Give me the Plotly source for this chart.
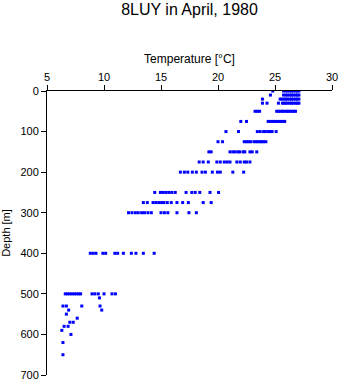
import plotly.graph_objects as go

# Depth levels (m) and the temperatures (deg C) observed at each level
depth_levels = [0, 10, 20, 30, 50, 75, 100, 125, 150, 175, 200, 250, 275, 300,
                400, 500, 510, 530, 540, 550, 560, 570, 580, 590, 600, 620, 650]

t_0 = [24.8, 25.75, 25.95, 26.1, 26.3, 26.45, 26.6, 26.8, 26.95, 27.1]
t_10 = [24.6, 25.75, 25.95, 26.1, 26.3, 26.45, 26.6, 26.8, 26.95, 27.1]
t_20 = [23.9, 25.45, 25.6, 25.8, 25.95, 26.1, 26.3, 26.45, 26.6, 26.8, 26.95, 27.1]
t_30 = [23.9, 24.3, 25.3, 25.65, 25.8, 25.95, 26.1, 26.3, 26.45, 26.6, 26.8, 26.95, 27.1]
t_50 = [23.25, 23.45, 23.65, 25.15, 25.3, 25.5, 25.65, 25.8, 26.0, 26.15, 26.3, 26.5, 26.65, 26.8]
t_75 = [22.0, 22.5, 24.4, 24.55, 24.75, 24.9, 25.05, 25.25, 25.4, 25.55, 25.75, 25.85]
t_100 = [20.7, 21.8, 23.45, 23.7, 24.0, 24.15, 24.4, 24.6, 24.75, 25.1]
t_125 = [20.0, 20.4, 22.3, 22.5, 22.7, 22.85, 23.15, 23.35, 23.5, 23.7, 23.85, 24.0, 24.2]
t_150 = [19.2, 19.4, 21.05, 21.3, 21.5, 21.75, 21.9, 22.2, 22.35, 22.8, 23.0, 23.4]
t_175 = [18.35, 18.7, 19.15, 19.9, 20.2, 20.55, 20.8, 21.05, 21.65, 21.95, 22.3, 22.5, 22.8]
t_200 = [16.7, 17.05, 17.35, 17.75, 18.1, 18.6, 18.9, 19.5, 19.95, 20.2, 21.3, 22.25]
t_250 = [14.45, 14.95, 15.2, 15.45, 15.7, 15.95, 16.25, 17.2, 17.7, 18.0, 18.4, 19.3, 20.05]
t_275 = [13.45, 13.8, 14.3, 14.55, 14.8, 15.05, 15.25, 15.55, 15.9, 16.4, 16.9, 17.4, 18.7, 19.4]
t_300 = [12.15, 12.45, 12.75, 13.0, 13.3, 13.55, 13.85, 14.15, 15.0, 15.3, 15.6, 16.4, 17.45, 18.1]
t_400 = [8.8, 9.05, 9.3, 9.9, 10.15, 10.95, 11.2, 11.7, 12.4, 12.8, 13.45, 14.4]
t_500 = [6.6, 6.8, 7.0, 7.2, 7.4, 7.6, 7.8, 7.95, 8.95, 9.2, 9.5, 10.0, 10.7, 11.0]
t_510 = [9.6]
t_530 = [6.4, 6.7, 8.05, 9.65]
t_540 = [6.9, 9.8]
t_550 = [6.7]
t_560 = [7.65]
t_570 = [7.0, 7.3]
t_580 = [6.5, 6.85]
t_590 = [6.3]
t_600 = [7.1]
t_620 = [6.4]
t_650 = [6.4]

temps_by_level = [t_0, t_10, t_20, t_30, t_50, t_75, t_100, t_125, t_150, t_175,
                  t_200, t_250, t_275, t_300, t_400, t_500, t_510, t_530, t_540,
                  t_550, t_560, t_570, t_580, t_590, t_600, t_620, t_650]

x_ticks = [5, 10, 15, 20, 25, 30]
y_ticks = [0, 100, 200, 300, 400, 500, 600, 700]

xs, ys = [], []
for d, temps in zip(depth_levels, temps_by_level):
    for t in temps:
        xs.append(t)
        ys.append(d)

FONT = "Liberation Sans, Arial, sans-serif"

fig = go.Figure(go.Scatter(
    x=xs, y=ys, mode="markers",
    marker=dict(symbol="square", size=3, color="#0000ff", line=dict(width=0)),
    showlegend=False,
))

axis_common = dict(
    showline=True, linecolor="black", linewidth=1,
    ticks="outside", ticklen=5, tickcolor="black", tickwidth=1,
    showgrid=False, zeroline=False, automargin=False,
    tickfont=dict(family=FONT, size=11, color="black"),
)

fig.update_layout(
    width=341, height=384,
    margin=dict(l=47, r=9, t=91, b=9, pad=0),
    paper_bgcolor="white", plot_bgcolor="white",
    font=dict(family=FONT, size=11, color="black"),
    title=dict(text="8LUY in April, 1980", x=0.5, xref="paper",
               y=1 - 9 / 384, yref="container", yanchor="middle",
               font=dict(family=FONT, size=16, color="black")),
    xaxis=dict(range=[5, 30], side="top", tickvals=x_ticks,
               title=dict(text="Temperature [°C]", standoff=4,
                          font=dict(family=FONT, size=12, color="black")),
               **axis_common),
    yaxis=dict(range=[700, 0], tickvals=y_ticks,
               title=dict(text="Depth [m]", standoff=8,
                          font=dict(family=FONT, size=11, color="black")),
               **axis_common),
)

fig.write_html("out.html")
